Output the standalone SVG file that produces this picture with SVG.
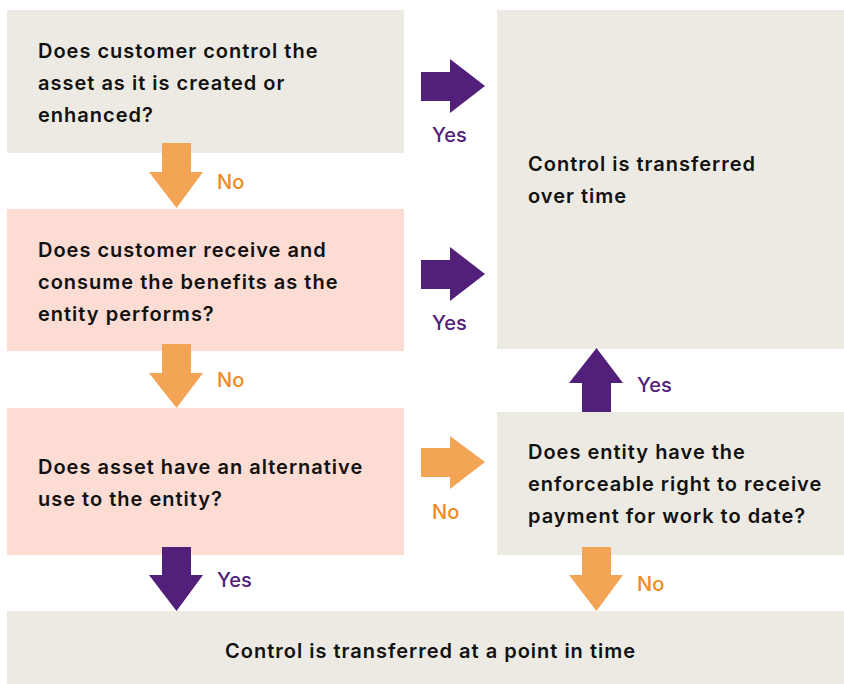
<svg xmlns="http://www.w3.org/2000/svg" width="844" height="684" viewBox="0 0 844 684">
<defs>
<style>
.beige{fill:#EDEAE3}
.pink{fill:#FCDCD3}
.t{font-family:Inter,"Open Sans","Liberation Sans",sans-serif;font-size:20px;font-weight:600;letter-spacing:1px;fill:#111111}
.purple{fill:#52207A}
.orange{fill:#F4A455}
.lblY{font-family:Inter,"Open Sans","Liberation Sans",sans-serif;font-size:20px;font-weight:500;fill:#52207A}
.lblN{font-family:Inter,"Open Sans","Liberation Sans",sans-serif;font-size:20px;font-weight:500;fill:#F08A24}
</style>
</defs>
<rect width="844" height="684" fill="#FFFFFF"/>
<g id="q1">
<rect class="beige" x="7" y="10" width="397" height="143"/>
<text class="t" x="38" y="58">Does customer control the</text>
<text class="t" x="38" y="90">asset as it is created or</text>
<text class="t" x="38" y="122">enhanced?</text>
</g>
<g id="q2">
<rect class="pink" x="7" y="209" width="397" height="142"/>
<text class="t" x="38" y="257">Does customer receive and</text>
<text class="t" x="38" y="289">consume the benefits as the</text>
<text class="t" x="38" y="321">entity performs?</text>
</g>
<g id="q3">
<rect class="pink" x="7" y="408" width="397" height="147"/>
<text class="t" x="38" y="474">Does asset have an alternative</text>
<text class="t" x="38" y="506">use to the entity?</text>
</g>
<g id="overtime">
<rect class="beige" x="497" y="10" width="347" height="339"/>
<text class="t" x="528" y="171">Control is transferred</text>
<text class="t" x="528" y="203">over time</text>
</g>
<g id="q4">
<rect class="beige" x="497" y="412" width="347" height="143"/>
<text class="t" x="528" y="459">Does entity have the</text>
<text class="t" x="528" y="491">enforceable right to receive</text>
<text class="t" x="528" y="523">payment for work to date?</text>
</g>
<g id="pointintime">
<rect class="beige" x="7" y="611" width="837" height="73"/>
<text class="t" x="225" y="658">Control is transferred at a point in time</text>
</g>
<g id="connectors">
<polygon class="purple" points="421,72 450,72 450,59 485,86 450,113 450,101 421,101"/>
<text class="lblY" x="432" y="142">Yes</text>
<polygon class="orange" points="162,143 191,143 191,172 203,172 176.5,208 149,172 162,172"/>
<text class="lblN" x="217" y="189">No</text>
<polygon class="purple" points="421,260 450,260 450,247 485,274 450,301 450,289 421,289"/>
<text class="lblY" x="432" y="330">Yes</text>
<polygon class="orange" points="162,344 191,344 191,373 203,373 176.5,408 149,373 162,373"/>
<text class="lblN" x="217" y="387">No</text>
<polygon class="orange" points="421,448 450,448 450,436 485,462 450,489 450,477 421,477"/>
<text class="lblN" x="432" y="519">No</text>
<polygon class="purple" points="162,547 191,547 191,575 203,575 176.5,611 149,575 162,575"/>
<text class="lblY" x="217" y="587">Yes</text>
<polygon class="orange" points="582,547 611,547 611,575 623,575 596.5,611 569,575 582,575"/>
<text class="lblN" x="637" y="591">No</text>
<polygon class="purple" points="582,412 611,412 611,383 623,383 596.5,348 569,383 582,383"/>
<text class="lblY" x="637" y="392">Yes</text>
</g>
</svg>
